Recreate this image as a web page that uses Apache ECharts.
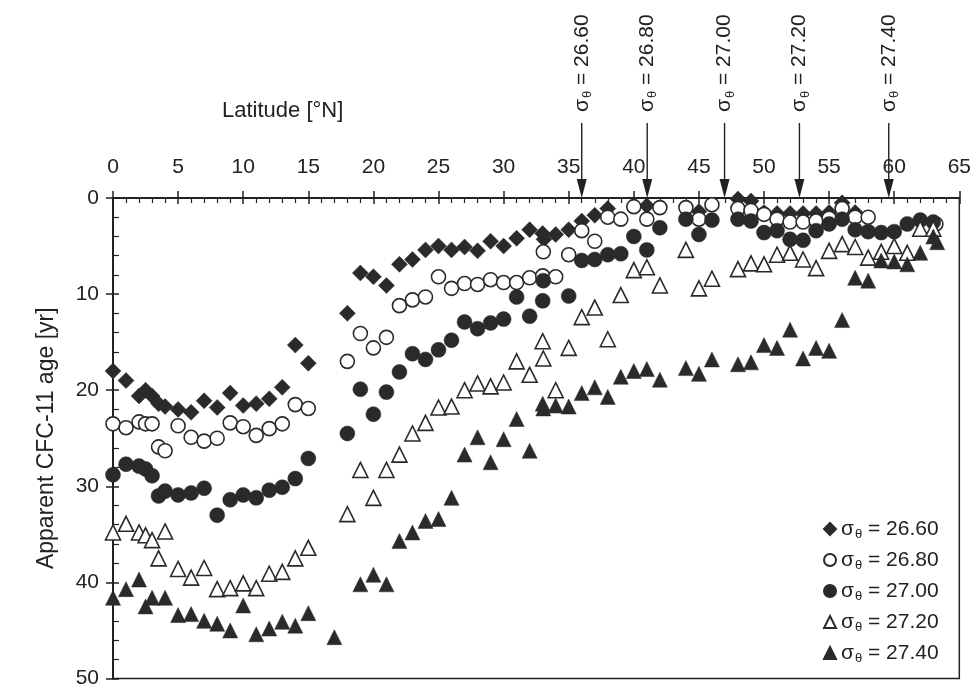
<!DOCTYPE html>
<html><head><meta charset="utf-8">
<script src="https://cdn.jsdelivr.net/npm/echarts@6/dist/echarts.min.js"></script>
<style>html,body{margin:0;padding:0;background:#fff}#c{width:974px;height:689px}</style>
</head><body><div id="c"></div>
<script>
const FONT = '"Liberation Sans", Arial, sans-serif';
const INK = '#222';

// ---- data (latitude °N, apparent CFC-11 age yr) ----
const lat2660 = [0,1,2,2.5,3,3.5,4,5,6,7,8,9,10,11,12,13,14,15,18,19,20,21,22,23,24,25,26,27,28,29,30,31,32,33,33.1,34,35,36,37,38,41,45,48,49,50,51,52,53,54,55,56,57];
const age2660 = [18.0,19.0,20.6,20.0,20.6,21.4,21.7,22.0,22.3,21.1,21.8,20.3,21.6,21.4,20.9,19.7,15.3,17.2,12.0,7.8,8.2,9.1,6.9,6.4,5.4,5.0,5.4,5.1,5.5,4.5,5.0,4.2,3.3,3.7,4.3,3.8,3.3,2.4,1.8,1.1,0.8,1.4,0.1,0.3,1.5,1.6,1.6,1.6,1.6,1.5,0.5,1.5];

const lat2680 = [0,1,2,2.5,3,3.5,4,5,6,7,8,9,10,11,12,13,14,15,18,19,20,21,22,23,24,25,26,27,28,29,30,31,32,33,33.05,34,35,36,37,38,39,40,41,42,44,45,46,48,49,50,51,52,53,54,55,56,57,58,63.2];
const age2680 = [23.5,23.9,23.3,23.5,23.5,25.9,26.3,23.7,24.9,25.3,25.0,23.4,23.8,24.7,24.0,23.5,21.5,21.9,17.0,14.1,15.6,14.5,11.2,10.6,10.3,8.2,9.4,8.9,9.0,8.5,8.8,8.8,8.3,8.1,5.6,8.2,5.9,3.4,4.5,2.0,2.2,0.9,2.2,1.0,1.0,2.2,0.7,1.1,1.3,1.7,2.2,2.5,2.5,2.4,2.1,1.1,2.0,2.0,2.7];

const lat2700 = [0,1,2,2.5,3,3.5,4,5,6,7,8,9,10,11,12,13,14,15,18,19,20,21,22,23,24,25,26,27,28,29,30,31,32,33,33.05,35,36,37,38,39,40,41,42,44,45,46,48,49,50,51,52,53,54,55,56,57,58,59,60,61,62,63];
const age2700 = [28.8,27.7,27.9,28.2,28.9,31.0,30.5,30.9,30.7,30.2,33.0,31.4,30.9,31.2,30.4,30.1,29.2,27.1,24.5,19.9,22.5,20.2,18.1,16.2,16.8,15.8,14.8,12.9,13.6,13.0,12.6,10.3,12.3,10.7,8.6,10.2,6.5,6.4,5.9,5.8,4.0,5.4,3.1,2.2,3.8,2.3,2.2,2.4,3.6,3.4,4.3,4.4,3.4,2.7,2.2,3.3,3.5,3.6,3.5,2.7,2.3,2.5];

const lat2720 = [0,1,2,2.5,3,3.5,4,5,6,7,8,9,10,11,12,13,14,15,18,19,20,21,22,23,24,25,26,27,28,29,30,31,32,33,33.05,34,35,36,37,38,39,40,41,42,44,45,46,48,49,50,51,52,53,54,55,56,57,58,59,60,61,62,63];
const age2720 = [34.8,33.9,34.8,35.1,35.6,37.5,34.7,38.6,39.5,38.5,40.7,40.6,40.1,40.6,39.1,38.9,37.5,36.4,32.9,28.3,31.2,28.3,26.7,24.5,23.4,21.8,21.7,20.0,19.3,19.6,19.2,17.0,18.4,14.9,16.7,20.0,15.6,12.4,11.4,14.7,10.1,7.5,7.2,9.1,5.4,9.4,8.4,7.4,6.8,6.9,5.9,5.7,6.4,7.3,5.5,4.8,5.1,6.2,5.6,5.0,5.7,3.2,3.2];

const lat2740 = [0,1,2,2.5,3,4,5,6,7,8,9,10,11,12,13,14,15,17,19,20,21,22,23,24,25,26,27,28,29,30,31,32,33,33.05,34,35,36,37,38,39,40,41,42,44,45,46,48,49,50,51,52,53,54,55,56,57,58,59,60,61,62,63,63.3];
const age2740 = [41.6,40.7,39.7,42.5,41.6,41.6,43.4,43.3,44.0,44.3,45.0,42.4,45.4,44.8,44.1,44.5,43.2,45.7,40.2,39.2,40.2,35.7,34.8,33.6,33.4,31.2,26.7,24.9,27.5,25.1,23.0,26.3,21.4,21.9,21.6,21.7,20.3,19.7,20.7,18.6,18.0,17.8,18.9,17.7,18.3,16.8,17.3,17.1,15.3,15.6,13.7,16.7,15.6,15.9,12.7,8.3,8.6,6.5,6.6,6.9,5.7,4.0,4.6];

const sigmaLabels = ['26.60','26.80','27.00','27.20','27.40'];
// latitudes where each isopycnal outcrops (arrows)
const outcropLat = [36.0, 41.03, 46.97, 52.72, 59.58];

const seriesLat = [lat2660, lat2680, lat2700, lat2720, lat2740];
const seriesAge = [age2660, age2680, age2700, age2720, age2740];
const symbols = ['diamond','circle','circle','triangle','triangle'];
const filled = [true,false,true,false,true];
const sizes = [16,14,15,15,15];

const subRich = {
  s: {fontFamily: FONT, fontSize: 21, color: INK},
  t: {fontFamily: FONT, fontSize: 13, color: INK, padding: [11,0,0,1]},
  n: {fontFamily: FONT, fontSize: 21, color: INK}
};
function sigmaText(v){ return '{s|σ}{t|θ}{n| = ' + v + '}'; }

const chart = echarts.init(document.getElementById('c'), null, {renderer: 'canvas'});

const series = sigmaLabels.map((lab, k) => ({
  name: 'σθ = ' + lab,
  type: 'scatter',
  xAxisIndex: 0, yAxisIndex: 0,
  symbol: symbols[k],
  symbolSize: sizes[k],
  itemStyle: filled[k]
    ? {color: '#2a2a2a', borderColor: '#2a2a2a', borderWidth: 0.5, opacity: 1}
    : {color: '#ffffff', borderColor: '#2a2a2a', borderWidth: 1.6, opacity: 1},
  emphasis: {disabled: true},
  data: seriesLat[k].map((x, i) => [x, seriesAge[k][i]])
}));

const axisLineStyle = {color: INK, width: 2};

chart.setOption({
  backgroundColor: '#fff',
  animation: false,
  grid: {left: 113, right: 14, top: 198, bottom: 3, show: true, borderColor: INK, borderWidth: 1.5, backgroundColor: 'transparent'},
  xAxis: [
    {type: 'value', position: 'top', min: 0, max: 65, interval: 5,
     axisLine: {show: true, onZero: false, lineStyle: axisLineStyle},
     axisTick: {show: true, inside: false, length: 7, lineStyle: {color: INK, width: 1.5}},
     minorTick: {show: false},
     axisLabel: {show: true, fontFamily: FONT, fontSize: 21, color: INK, margin: 20},
     splitLine: {show: false}},
    {type: 'value', position: 'top', min: 0, max: 65, interval: 5,
     axisLine: {show: false, onZero: false},
     axisTick: {show: true, inside: true, length: 6, lineStyle: {color: INK, width: 1.5}},
     minorTick: {show: true, splitNumber: 5, length: 5, lineStyle: {color: INK, width: 1.2}},
     axisLabel: {show: false},
     splitLine: {show: false}}
  ],
  yAxis: [
    {type: 'value', position: 'left', inverse: true, min: 0, max: 50, interval: 10,
     name: 'Apparent CFC-11 age [yr]', nameLocation: 'middle', nameGap: 55,
     nameTextStyle: {fontFamily: FONT, fontSize: 23, color: INK},
     axisLine: {show: true, onZero: false, lineStyle: axisLineStyle},
     axisTick: {show: true, inside: false, length: 7, lineStyle: {color: INK, width: 1.5}},
     axisLabel: {show: true, fontFamily: FONT, fontSize: 21, color: INK, margin: 14},
     splitLine: {show: false}},
    {type: 'value', position: 'left', inverse: true, min: 0, max: 50, interval: 10,
     axisLine: {show: false, onZero: false},
     axisTick: {show: true, inside: true, length: 6, lineStyle: {color: INK, width: 1.5}},
     minorTick: {show: true, splitNumber: 5, length: 6, lineStyle: {color: INK, width: 1.2}},
     axisLabel: {show: false},
     splitLine: {show: false}}
  ],
  legend: {
    orient: 'vertical', left: 818, top: 512,
    itemWidth: 12, itemHeight: 12, itemGap: 7,
    selectedMode: false,
    formatter: function(name){ return sigmaText(name.split('= ')[1]); },
    textStyle: {fontFamily: FONT, fontSize: 21, color: INK, lineHeight: 24, rich: subRich}
  },
  series: series
});

// outcrop arrows and labels, placed with the x-axis scale
const gridTop = 198;
const graphics = [];
outcropLat.forEach((lat, k) => {
  const px = chart.convertToPixel({xAxisIndex: 0}, lat);
  graphics.push({type: 'line', silent: true, z: 100,
    shape: {x1: px, y1: 123, x2: px, y2: gridTop - 14},
    style: {stroke: INK, lineWidth: 1.4}});
  graphics.push({type: 'polygon', silent: true, z: 100,
    shape: {points: [[px - 5, gridTop - 19], [px + 5, gridTop - 19], [px, gridTop]]},
    style: {fill: INK}});
  graphics.push({type: 'text', silent: true, z: 100,
    x: px, y: 112, rotation: Math.PI / 2,
    style: {text: sigmaText(sigmaLabels[k]), rich: subRich, align: 'left', verticalAlign: 'middle', fill: INK, font: '21px ' + FONT}});
});
graphics.push({type: 'text', silent: true, left: 222, top: 100,
  style: {text: 'Latitude [°N]', fill: INK, font: '22px ' + FONT}});
chart.setOption({graphic: graphics});
</script>
</body></html>
